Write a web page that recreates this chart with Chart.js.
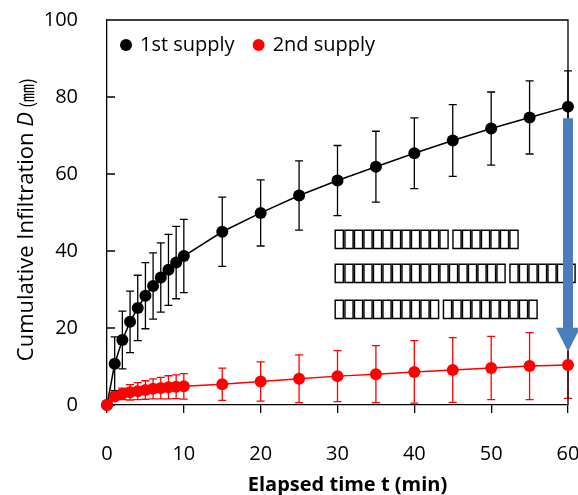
<!DOCTYPE html>
<html>
<head>
<meta charset="utf-8">
<script src="https://cdn.jsdelivr.net/npm/chart.js@4"></script>
<style>
  html, body { margin: 0; padding: 0; background: #fff; }
</style>
</head>
<body>
<canvas id="chart" width="578" height="495"></canvas>
<script>
// elapsed time (min)
const times = [0, 1, 2, 3, 4, 5, 6, 7, 8, 9, 10, 15, 20, 25, 30, 35, 40, 45, 50, 55, 60];

// cumulative infiltration D (mm) and its error (+/-)
const firstSupply = [0, 10.7, 16.9, 21.6, 25.2, 28.4, 30.9, 33.1, 35.1, 37.0, 38.7, 45.0, 49.9, 54.4, 58.3, 61.9, 65.4, 68.7, 71.8, 74.7, 77.5];
const firstError = [0, 7, 7.5, 8, 8.5, 8.6, 8.6, 9, 9.2, 9.4, 9.5, 9, 8.6, 9, 9.1, 9.2, 9.2, 9.3, 9.5, 9.5, 9.3];
const secondSupply = [0, 2.2, 2.9, 3.3, 3.6, 3.9, 4.2, 4.4, 4.6, 4.75, 4.85, 5.4, 6.1, 6.8, 7.5, 8.0, 8.6, 9.1, 9.6, 10.1, 10.4];
const secondError = [0, 1, 1.5, 2, 2.2, 2.4, 2.6, 2.8, 3, 3.1, 3.3, 4.2, 5.1, 6.2, 6.6, 7.4, 8.1, 8.4, 8.2, 8.7, 8.7];

const seriesLabels = ['1st supply', '2nd supply'];
const seriesColors = ['#000000', '#ff0000'];

const xTitle = 'Elapsed time t (min)';

// annotation: text rendered as missing glyph boxes in the source picture
const noteLines = [
    '▯▯▯▯▯▯▯▯▯▯▯▯ ▯▯▯▯▯▯▯',
    '▯▯▯▯▯▯▯▯▯▯▯▯▯▯▯▯▯▯ ▯▯▯▯▯▯▯',
    '▯▯▯▯▯▯▯▯▯▯▯ ▯▯▯▯▯▯▯▯▯▯'
];
const noteX = 29.3;
const noteY = [43.1, 34.3, 24.9];

// arrow from 1st to 2nd supply at t = 60
const arrowX = 60;
const arrowFrom = 74.5;
const arrowTo = 13.8;

const FONT = '"Open Sans", "Noto Sans", sans-serif';

function toPoints(ys) {
    return ys.map((v, i) => ({ x: times[i], y: v }));
}

const errors = [firstError, secondError];

const errorBars = {
    id: 'errorBars',
    beforeDatasetsDraw(chart) {
        const { ctx, scales: { x, y } } = chart;
        chart.data.datasets.forEach((ds, d) => {
            ctx.save();
            ctx.strokeStyle = ds.borderColor;
            ctx.lineWidth = 1.3;
            ds.data.forEach((p, i) => {
                const e = errors[d][i];
                if (!e) return;
                const px = x.getPixelForValue(p.x);
                const top = y.getPixelForValue(p.y + e);
                const bot = y.getPixelForValue(p.y - e);
                ctx.beginPath();
                ctx.moveTo(px, top); ctx.lineTo(px, bot);
                ctx.moveTo(px - 4, top); ctx.lineTo(px + 4, top);
                ctx.moveTo(px - 4, bot); ctx.lineTo(px + 4, bot);
                ctx.stroke();
            });
            ctx.restore();
        });
    }
};

const frame = {
    id: 'frame',
    beforeDatasetsDraw(chart) {
        const { ctx, chartArea: a, scales: { y } } = chart;
        ctx.save();
        ctx.strokeStyle = '#000';
        ctx.lineWidth = 1.3;
        ctx.beginPath();
        ctx.moveTo(a.left, a.top); ctx.lineTo(a.right, a.top); ctx.lineTo(a.right, a.bottom);
        // inward ticks on the y axis
        y.ticks.forEach(t => {
            const py = y.getPixelForValue(t.value);
            ctx.moveTo(a.left, py); ctx.lineTo(a.left + 8, py);
        });
        ctx.stroke();
        ctx.restore();
    }
};

const overlay = {
    id: 'overlay',
    afterDatasetsDraw(chart) {
        const { ctx, chartArea: a, scales: { x, y } } = chart;
        ctx.save();

        // notes
        ctx.font = '26px "DejaVu Sans"';
        ctx.letterSpacing = '-4.8px';
        ctx.fillStyle = '#000';
        ctx.textBaseline = 'middle';
        noteLines.forEach((s, i) => {
            ctx.fillText(s, x.getPixelForValue(noteX), y.getPixelForValue(noteY[i]));
        });
        ctx.letterSpacing = '0px';

        // blue arrow
        const ax = x.getPixelForValue(arrowX);
        const y0 = y.getPixelForValue(arrowFrom);
        const y1 = y.getPixelForValue(arrowTo);
        ctx.fillStyle = '#4a7ebb';
        ctx.beginPath();
        ctx.moveTo(ax - 5, y0);
        ctx.lineTo(ax + 5, y0);
        ctx.lineTo(ax + 5, y1 - 24);
        ctx.lineTo(ax + 12, y1 - 24);
        ctx.lineTo(ax, y1);
        ctx.lineTo(ax - 12, y1 - 24);
        ctx.lineTo(ax - 5, y1 - 24);
        ctx.closePath();
        ctx.fill();

        // legend
        ctx.font = '20px ' + FONT;
        ctx.textBaseline = 'middle';
        let lx = a.left + 19;
        const ly = a.top + 25;
        seriesLabels.forEach((lab, i) => {
            ctx.fillStyle = seriesColors[i];
            ctx.beginPath();
            ctx.arc(lx, ly, 6, 0, Math.PI * 2);
            ctx.fill();
            ctx.fillStyle = '#000';
            ctx.fillText(lab, lx + 14, ly);
            lx += 14 + ctx.measureText(lab).width + 24;
        });

        ctx.restore();
    },
    afterDraw(chart) {
        const { ctx, chartArea: a } = chart;
        ctx.save();
        ctx.fillStyle = '#000';
        ctx.textBaseline = 'middle';

        // x axis title
        ctx.font = 'bold 20px ' + FONT;
        ctx.textAlign = 'center';
        ctx.fillText(xTitle, (a.left + a.right) / 2 + 10, a.bottom + 80);
        ctx.textAlign = 'left';

        // y axis title with italic D
        const parts = [
            { t: 'Cumulative Infiltration ', f: '22px ' + FONT },
            { t: 'D', f: 'italic 22px ' + FONT },
            { t: ' (㎜)', f: '18px "Noto Sans CJK JP"' }
        ];
        let total = 0;
        parts.forEach(p => { ctx.font = p.f; p.w = ctx.measureText(p.t).width; total += p.w; });
        ctx.translate(27, (a.top + a.bottom) / 2 + 7);
        ctx.rotate(-Math.PI / 2);
        let px = -total / 2;
        parts.forEach(p => { ctx.font = p.f; ctx.fillText(p.t, px, 0); px += p.w; });
        ctx.restore();
    }
};

new Chart(document.getElementById('chart'), {
    type: 'line',
    data: {
        datasets: [
            {
                label: seriesLabels[0],
                data: toPoints(firstSupply),
                borderColor: seriesColors[0],
                backgroundColor: seriesColors[0],
                borderWidth: 1.5,
                pointRadius: 6,
                pointBorderWidth: 0,
                clip: false,
                order: 2
            },
            {
                label: seriesLabels[1],
                data: toPoints(secondSupply),
                borderColor: seriesColors[1],
                backgroundColor: seriesColors[1],
                borderWidth: 1.5,
                pointRadius: 6,
                pointBorderWidth: 0,
                clip: false,
                order: 1
            }
        ]
    },
    options: {
        responsive: false,
        animation: false,
        layout: { padding: { top: 20, right: 10, left: 0, bottom: 0 } },
        plugins: { legend: { display: false }, tooltip: { enabled: false } },
        scales: {
            x: {
                type: 'linear',
                min: 0,
                max: 60,
                ticks: { stepSize: 10, color: '#000', font: { family: FONT, size: 20 }, padding: 29, maxRotation: 0 },
                grid: { drawOnChartArea: false, drawTicks: true, tickLength: 8, color: '#000', lineWidth: 1.3 },
                border: { display: true, color: '#000', width: 1.3 },
                afterFit(scale) {
                    scale.height = 90;
                    scale.paddingLeft = 0;
                    scale.paddingRight = 0;
                }
            },
            y: {
                min: 0,
                max: 100,
                ticks: { stepSize: 20, color: '#000', font: { family: FONT, size: 20 }, padding: 29 },
                grid: { drawOnChartArea: false, drawTicks: false },
                border: { display: true, color: '#000', width: 1.3 },
                afterFit(scale) {
                    scale.width = 107;
                    scale.paddingTop = 0;
                    scale.paddingBottom = 0;
                }
            }
        }
    },
    plugins: [errorBars, frame, overlay]
});
</script>
</body>
</html>
